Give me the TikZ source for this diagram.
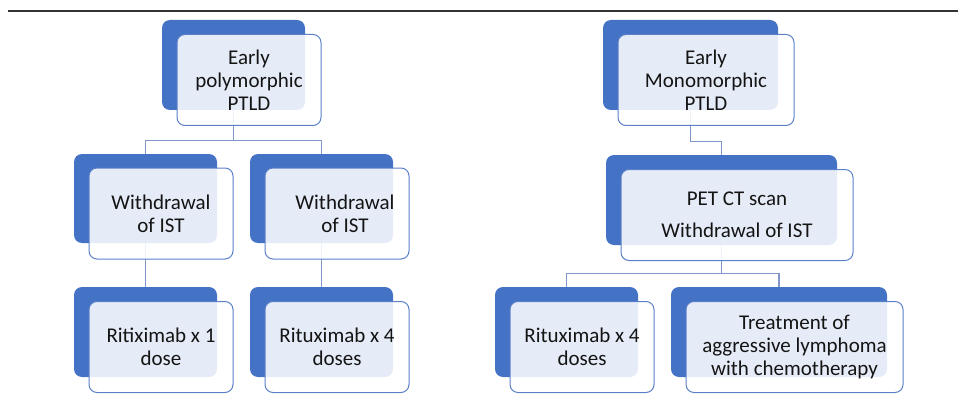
\documentclass[tikz,border=0pt]{standalone}
\usepackage{fontspec}
\setmainfont{Carlito}
\usepackage{tikz}
\usetikzlibrary{positioning,calc}
\definecolor{PtldBlue}{HTML}{4472C4}
\definecolor{PtldEdge}{HTML}{5B80C9}
\definecolor{PtldLink}{HTML}{8096CC}
\definecolor{PtldText}{HTML}{141414}
\definecolor{PtldRule}{HTML}{333333}

\begin{document}
\begin{tikzpicture}[x=1pt,y=-1pt,
  backbox/.style={draw=none,fill=PtldBlue,rounded corners=8pt,inner sep=0pt},
  frontbox/.style={draw=PtldEdge,line width=1pt,fill=white,fill opacity=0.87,text opacity=1,
    rounded corners=8pt,inner sep=0pt,align=center,text=PtldText,
    font=\fontsize{21}{23}\selectfont},
  link/.style={draw=PtldLink,line width=1.2pt}]
\useasboundingbox (0,0) rectangle (958,401);
\draw[line width=1.2pt,draw=PtldRule] (8,11)--(958,11);
% dark back boxes
\node[backbox,minimum width=143pt,minimum height=90pt] (polyB) at (233.5,65) {};
\node[backbox,minimum width=143pt,minimum height=89pt] (wdaB) at (145.5,198.5) {};
\node[backbox,minimum width=143pt,minimum height=89pt] (wdbB) at (321.5,198.5) {};
\node[backbox,minimum width=143pt,minimum height=90pt] (rxaB) at (145.5,332) {};
\node[backbox,minimum width=143pt,minimum height=90pt] (rxbB) at (321.5,332) {};
\node[backbox,minimum width=175pt,minimum height=90pt] (monoB) at (690.5,65) {};
\node[backbox,minimum width=231pt,minimum height=90pt] (petB) at (721.5,200) {};
\node[backbox,minimum width=143pt,minimum height=90pt] (rxcB) at (566.5,332) {};
\node[backbox,minimum width=216pt,minimum height=90pt] (chemoB) at (779,332) {};
% connectors
\draw[link] (polyB.south) -- ++(0,30) -| (wdaB.north);
\draw[link] (polyB.south) -- ++(0,30) -| (wdbB.north);
\draw[link] (wdaB.south) -- (rxaB.north);
\draw[link] (wdbB.south) -- (rxbB.north);
\draw[link] (monoB.south) -- ++(0,31) -| (petB.north);
\draw[link] (petB.south) -- ++(0,28) -| (rxcB.north);
\draw[link] (petB.south) -- ++(0,28) -| (chemoB.north);
% light front boxes
\node[frontbox,minimum width=144pt,minimum height=91pt] (poly) at ([shift={(15.5,15)}]polyB.center) {Early\\polymorphic\\PTLD};
\node[frontbox,minimum width=144pt,minimum height=91pt] (wda) at ([shift={(15.5,15)}]wdaB.center) {Withdrawal\\of IST};
\node[frontbox,minimum width=144pt,minimum height=91pt] (wdb) at ([shift={(15.5,15)}]wdbB.center) {\hspace*{16pt}Withdrawal\\\hspace*{16pt}of IST};
\node[frontbox,minimum width=144pt,minimum height=91pt] (rxa) at ([shift={(15.5,15)}]rxaB.center) {Ritiximab x 1\\dose};
\node[frontbox,minimum width=144pt,minimum height=91pt] (rxb) at ([shift={(15.5,15)}]rxbB.center) {Rituximab x 4\\doses};
\node[frontbox,minimum width=176pt,minimum height=91pt] (mono) at ([shift={(15.5,15)}]monoB.center) {Early\\Monomorphic\\PTLD};
\node[frontbox,minimum width=232pt,minimum height=91pt] (pet) at ([shift={(15.5,15)}]petB.center) {PET CT scan\\[9pt]Withdrawal of IST};
\node[frontbox,minimum width=144pt,minimum height=91pt] (rxc) at ([shift={(15.5,15)}]rxcB.center) {Rituximab x 4\\doses};
\node[frontbox,minimum width=217pt,minimum height=91pt] (chemo) at ([shift={(15.5,15)}]chemoB.center) {Treatment of\\aggressive lymphoma\\with chemotherapy};
\end{tikzpicture}
\end{document}
